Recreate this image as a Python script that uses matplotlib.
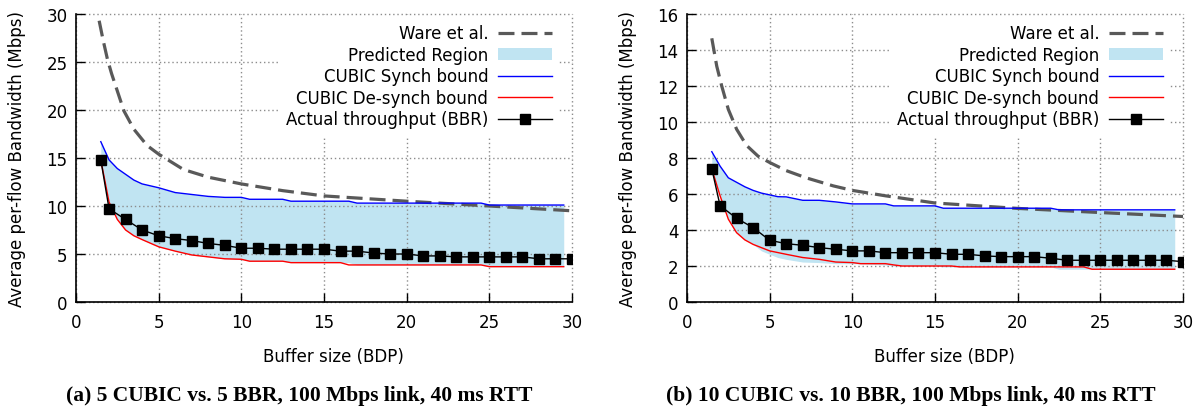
"""
Per-flow bandwidth vs buffer size, CUBIC vs BBR.

Two panels side by side, gnuplot-like look.
"""
import matplotlib
matplotlib.use('Agg')
import matplotlib.pyplot as plt
from matplotlib.patches import Patch

# ---- panel (a): 5 CUBIC vs 5 BBR ----
a_ware_x = [1.4, 1.65, 1.9, 2.15, 2.4, 2.9, 3.5, 4.3, 5, 6.5, 8, 10, 12.5, 15, 20, 25, 30]
a_ware_y = [29.3, 27.2, 25.3, 23.8, 22.5, 19.9, 18.0, 16.3, 15.4, 13.8, 13.0, 12.3, 11.6, 11.05, 10.5, 10.0, 9.5]

a_synch_x = [1.5, 2, 2.5, 3, 3.5, 4, 5, 6, 7, 8, 9, 10, 10.5, 12.5, 13, 16.5, 17, 24.5, 25, 29.5]
a_synch_y = [16.7, 14.8, 13.9, 13.3, 12.7, 12.3, 11.9, 11.4, 11.2, 11.0, 10.9, 10.9, 10.7, 10.7, 10.5, 10.5, 10.3, 10.3, 10.1, 10.1]

a_desynch_x = [1.5, 2, 2.5, 3, 3.5, 4, 5, 6, 7, 8, 9, 10, 10.5, 12.5, 13, 16, 16.5, 24.5, 25, 29.5]
a_desynch_y = [14.8, 10.4, 8.6, 7.5, 6.9, 6.5, 5.75, 5.3, 4.9, 4.7, 4.5, 4.45, 4.25, 4.25, 4.1, 4.1, 3.86, 3.86, 3.68, 3.68]

a_bbr_x = [1.5] + list(range(2, 31))
a_bbr_y = [14.8, 9.7, 8.6, 7.5, 6.9, 6.6, 6.4, 6.1, 5.9, 5.6, 5.6, 5.5, 5.5, 5.5, 5.5,
           5.3, 5.3, 5.1, 5.0, 5.0, 4.8, 4.8, 4.7, 4.7, 4.7, 4.7, 4.7, 4.5, 4.5, 4.5]

# ---- panel (b): 10 CUBIC vs 10 BBR ----
b_ware_x = [1.5, 1.8, 2.1, 2.5, 3, 3.6, 4.3, 5, 6, 7.2, 8.85, 10, 12, 15, 20, 25, 30]
b_ware_y = [14.65, 13.1, 12.0, 10.7, 9.6, 8.7, 8.1, 7.75, 7.3, 6.9, 6.45, 6.2, 5.9, 5.5, 5.2, 4.97, 4.75]

b_synch_x = [1.5, 2, 2.5, 3, 3.5, 4, 4.5, 5, 5.5, 6, 7, 8, 9, 10, 12, 12.5, 15, 15.5, 22, 22.5, 29.5]
b_synch_y = [8.35, 7.55, 6.9, 6.65, 6.4, 6.2, 6.05, 5.95, 5.85, 5.84, 5.65, 5.65, 5.56, 5.45, 5.45,
             5.34, 5.34, 5.21, 5.21, 5.12, 5.12]

b_desynch_x = [1.5, 2, 2.5, 3, 3.5, 4, 5, 6, 7, 8, 9, 10, 10.5, 12, 12.5, 13, 16, 16.5, 24, 24.5, 29.5]
b_desynch_y = [7.4, 5.9, 4.6, 3.85, 3.45, 3.2, 2.84, 2.65, 2.47, 2.37, 2.22, 2.19, 2.13, 2.13,
               2.06, 2.0, 2.0, 1.95, 1.95, 1.82, 1.82]

b_bbr_x = [1.5] + list(range(2, 31))
b_bbr_y = [7.4, 5.35, 4.65, 4.13, 3.43, 3.24, 3.15, 3.02, 2.93, 2.84, 2.84, 2.74, 2.74, 2.74, 2.74,
           2.65, 2.65, 2.56, 2.52, 2.52, 2.52, 2.43, 2.32, 2.32, 2.32, 2.32, 2.32, 2.32, 2.32, 2.24]

FILL = '#c0e4f2'
WARE = '#595959'
FS = 12


def draw_panel(ax, ware, synch, desynch, bbr, ymax, ystep):
    ax.fill_between(synch[0], synch[1], desynch[1], color=FILL, lw=0, zorder=0.3)
    ax.plot(ware[0], ware[1], color=WARE, lw=2.3, dashes=(5, 2.2), zorder=2)
    ax.plot(synch[0], synch[1], color='#0000ff', lw=1.0, zorder=2)
    ax.plot(desynch[0], desynch[1], color='#ff0000', lw=1.0, zorder=2)
    ax.plot(bbr[0], bbr[1], color='black', lw=1.0, marker='s', ms=6.5, zorder=3)

    ax.set_xlim(0, 30)
    ax.set_ylim(0, ymax)
    ax.set_xticks(range(0, 31, 5))
    ax.set_yticks(range(0, ymax + 1, ystep))
    ax.tick_params(direction='in', length=6.5, width=1, labelsize=FS, pad=6)
    ax.tick_params(axis='x', pad=8)
    ax.spines['top'].set_visible(False)
    ax.spines['right'].set_visible(False)
    ax.spines['left'].set_linewidth(1.2)
    ax.spines['bottom'].set_linewidth(1.2)
    ax.set_axisbelow(True)
    ax.grid(True, color='#8c8c8c', lw=1, linestyle=(0, (1, 2)))
    for gl in ax.get_xgridlines() + ax.get_ygridlines():
        gl.set_clip_on(False)

    ax.set_xlabel('Buffer size (BDP)', fontsize=FS)
    ax.xaxis.set_label_coords(0.52, -0.155)
    ax.set_ylabel('Average per-flow Bandwidth (Mbps)', fontsize=FS)
    ax.yaxis.set_label_coords(-0.101, 0.5)

    handles = [
        plt.Line2D([], [], color=WARE, lw=2.3, dashes=(5, 2.2)),
        Patch(facecolor=FILL, edgecolor='none'),
        plt.Line2D([], [], color='#0000ff', lw=1.0),
        plt.Line2D([], [], color='#ff0000', lw=1.0),
        plt.Line2D([], [], color='black', lw=1.0, marker='s', ms=6.5),
    ]
    labels = ['Ware et al.', 'Predicted Region', 'CUBIC Synch bound',
              'CUBIC De-synch bound', 'Actual throughput (BBR)']
    leg = ax.legend(handles, labels, loc='upper right', bbox_to_anchor=(0.974, 0.99),
                    markerfirst=False, fontsize=FS, frameon=True, framealpha=1,
                    edgecolor='none', fancybox=False, handlelength=3.2,
                    handletextpad=0.6, labelspacing=0.21, borderpad=0.45,
                    borderaxespad=0)
    leg.set_zorder(5)


if __name__ == '__main__':
    fig = plt.figure(figsize=(12.03, 4.10), dpi=100)
    ax_a = fig.add_axes([76 / 1203, 1 - 303 / 410, 496 / 1203, 288 / 410])
    ax_b = fig.add_axes([687 / 1203, 1 - 303 / 410, 496 / 1203, 288 / 410])

    draw_panel(ax_a, (a_ware_x, a_ware_y), (a_synch_x, a_synch_y),
               (a_desynch_x, a_desynch_y), (a_bbr_x, a_bbr_y), 30, 5)
    draw_panel(ax_b, (b_ware_x, b_ware_y), (b_synch_x, b_synch_y),
               (b_desynch_x, b_desynch_y), (b_bbr_x, b_bbr_y), 16, 2)

    cap = dict(fontsize=15.5, fontweight='bold', family='Liberation Serif',
               ha='center', va='center')
    fig.text(299 / 1203, 1 - 396 / 410, '(a) 5 CUBIC vs. 5 BBR, 100 Mbps link, 40 ms RTT', **cap)
    fig.text(911 / 1203, 1 - 396 / 410, '(b) 10 CUBIC vs. 10 BBR, 100 Mbps link, 40 ms RTT', **cap)

    fig.savefig('out.png', dpi=100)
